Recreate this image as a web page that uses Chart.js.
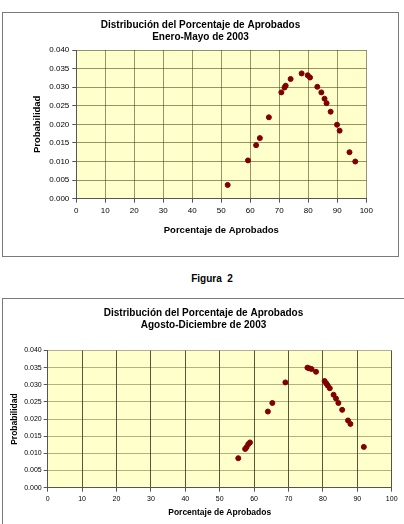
<!DOCTYPE html>
<html>
<head>
<meta charset="utf-8">
<script src="https://cdn.jsdelivr.net/npm/chart.js@4.4.1/dist/chart.umd.min.js"></script>
<style>
  body { margin: 0; background: #fff; width: 404px; height: 524px; overflow: hidden; position: relative; font-family: 'Liberation Sans', Arial, sans-serif; }
  .box { position: absolute; border: 1px solid #7a7a7a; background: #fff; }
  #box1 { left: 2px; top: 12px; width: 395px; height: 243px; }
  #box2 { left: 2px; top: 298px; width: 410px; height: 240px; }
  #fig { position: absolute; left: 0; width: 424px; top: 273px; text-align: center; font-weight: bold; font-size: 10px; white-space: pre; }
  canvas { display: block; }
</style>
</head>
<body>
<div class="box" id="box1"><canvas id="chart1" width="395" height="243"></canvas></div>
<div id="fig">Figura  2</div>
<div class="box" id="box2"><canvas id="chart2" width="401" height="225"></canvas></div>
<script>
// Enero-Mayo 2003
const pctEneMay = [52.2, 59.2, 62.0, 63.3, 66.4, 70.7, 71.8, 72.2, 73.9, 77.7, 79.8, 80.6, 83.1, 84.5, 85.6, 86.3, 87.7, 89.9, 90.8, 94.2, 96.2];
const probEneMay = [0.0037, 0.0103, 0.0144, 0.0163, 0.0219, 0.0286, 0.0299, 0.0304, 0.0322, 0.0337, 0.0332, 0.0326, 0.0301, 0.0286, 0.0269, 0.0257, 0.0234, 0.0199, 0.0183, 0.0125, 0.0100];

// Agosto-Diciembre 2003
const pctAgoDic = [55.4, 57.4, 57.8, 58.3, 58.8, 64.0, 65.3, 69.1, 75.5, 76.0, 76.7, 78.0, 80.5, 81.0, 81.4, 82.0, 83.1, 83.8, 84.5, 85.6, 87.3, 88.0, 91.9];
const probAgoDic = [0.0086, 0.0113, 0.0118, 0.0127, 0.0132, 0.0222, 0.0247, 0.0307, 0.0350, 0.0348, 0.0346, 0.0338, 0.0311, 0.0304, 0.0298, 0.0290, 0.0271, 0.0260, 0.0247, 0.0227, 0.0196, 0.0186, 0.0119];

const titleEneMay = ['Distribución del Porcentaje de Aprobados', 'Enero-Mayo de 2003'];
const titleAgoDic = ['Distribución del Porcentaje de Aprobados', 'Agosto-Diciembre de 2003'];
const xTitle = 'Porcentaje de Aprobados';
const yTitle = 'Probabilidad';

Chart.defaults.font.family = "'Liberation Sans', Arial, sans-serif";
Chart.defaults.color = '#000';

const plotBg = {
    id: 'plotBg',
    beforeDraw(chart) {
        const a = chart.chartArea;
        const ctx = chart.ctx;
        ctx.save();
        ctx.fillStyle = '#ffffcc';
        ctx.fillRect(a.left, a.top, a.right - a.left, a.bottom - a.top);
        ctx.restore();
    }
};

function makeChart(id, xs, ys, t) {
    const points = xs.map((x, i) => ({ x: x, y: ys[i] }));
    return new Chart(document.getElementById(id), {
        type: 'scatter',
        data: {
            datasets: [{
                data: points,
                backgroundColor: '#800000',
                borderColor: '#800000',
                pointRadius: 2.5,
                pointHoverRadius: 2.5
            }]
        },
        options: {
            responsive: false,
            animation: false,
            layout: { padding: 0 },
            plugins: {
                legend: { display: false },
                tooltip: { enabled: false },
                title: {
                    display: true,
                    text: t.title,
                    font: { size: 10, weight: 'bold' },
                    lineHeight: t.titleLH,
                    padding: { top: t.titlePadTop, bottom: t.titlePadBottom },
                    color: '#000'
                }
            },
            scales: {
                x: {
                    type: 'linear',
                    min: 0,
                    max: 100,
                    ticks: { stepSize: 10, autoSkip: false, maxRotation: 0, font: { size: t.tickSize }, padding: t.xTickPad },
                    grid: { color: t.vGrid, tickLength: 4, tickColor: '#555' },
                    border: { color: '#555' },
                    title: { display: true, text: xTitle, font: { size: t.xTitleSize, weight: 'bold' }, padding: { top: 0, bottom: t.xTitlePad } },
                    afterFit: s => { s.height = t.xHeight; }
                },
                y: {
                    min: 0,
                    max: 0.04,
                    ticks: { stepSize: 0.005, autoSkip: false, font: { size: t.tickSize }, padding: t.yTickPad, callback: v => v.toFixed(3) },
                    grid: { color: t.hGrid, tickLength: 4, tickColor: '#555' },
                    border: { color: '#555' },
                    title: { display: true, text: yTitle, font: { size: t.yTitleSize, weight: 'bold' }, padding: { top: t.yTitlePad, bottom: 0 } },
                    afterFit: s => { s.width = t.yWidth; }
                },
                yPad: {
                    position: 'right',
                    grid: { display: false },
                    ticks: { display: false },
                    border: { display: false },
                    afterFit: s => { s.width = t.rightPad; }
                }
            }
        },
        plugins: [plotBg]
    });
}

makeChart('chart1', pctEneMay, probEneMay, {
    title: titleEneMay, titleLH: 1.4, titlePadTop: 6, titlePadBottom: 7,
    tickSize: 8, xTickPad: 3, yTickPad: 3,
    xTitleSize: 9.5, xTitlePad: 20, xHeight: 57.3,
    yTitleSize: 9.5, yTitlePad: 29, yWidth: 73.3, rightPad: 31.7,
    vGrid: 'rgba(60,60,20,0.55)', hGrid: 'rgba(60,60,20,0.55)'
});

makeChart('chart2', pctAgoDic, probAgoDic, {
    title: titleAgoDic, titleLH: 1.3, titlePadTop: 8, titlePadBottom: 19.5,
    tickSize: 7, xTickPad: 3, yTickPad: 2,
    xTitleSize: 8.5, xTitlePad: 6, xHeight: 36.3,
    yTitleSize: 8.5, yTitlePad: 7, yWidth: 44.7, rightPad: 12.3,
    vGrid: 'rgba(30,30,10,0.75)', hGrid: 'rgba(60,60,20,0.4)'
});
</script>
</body>
</html>
